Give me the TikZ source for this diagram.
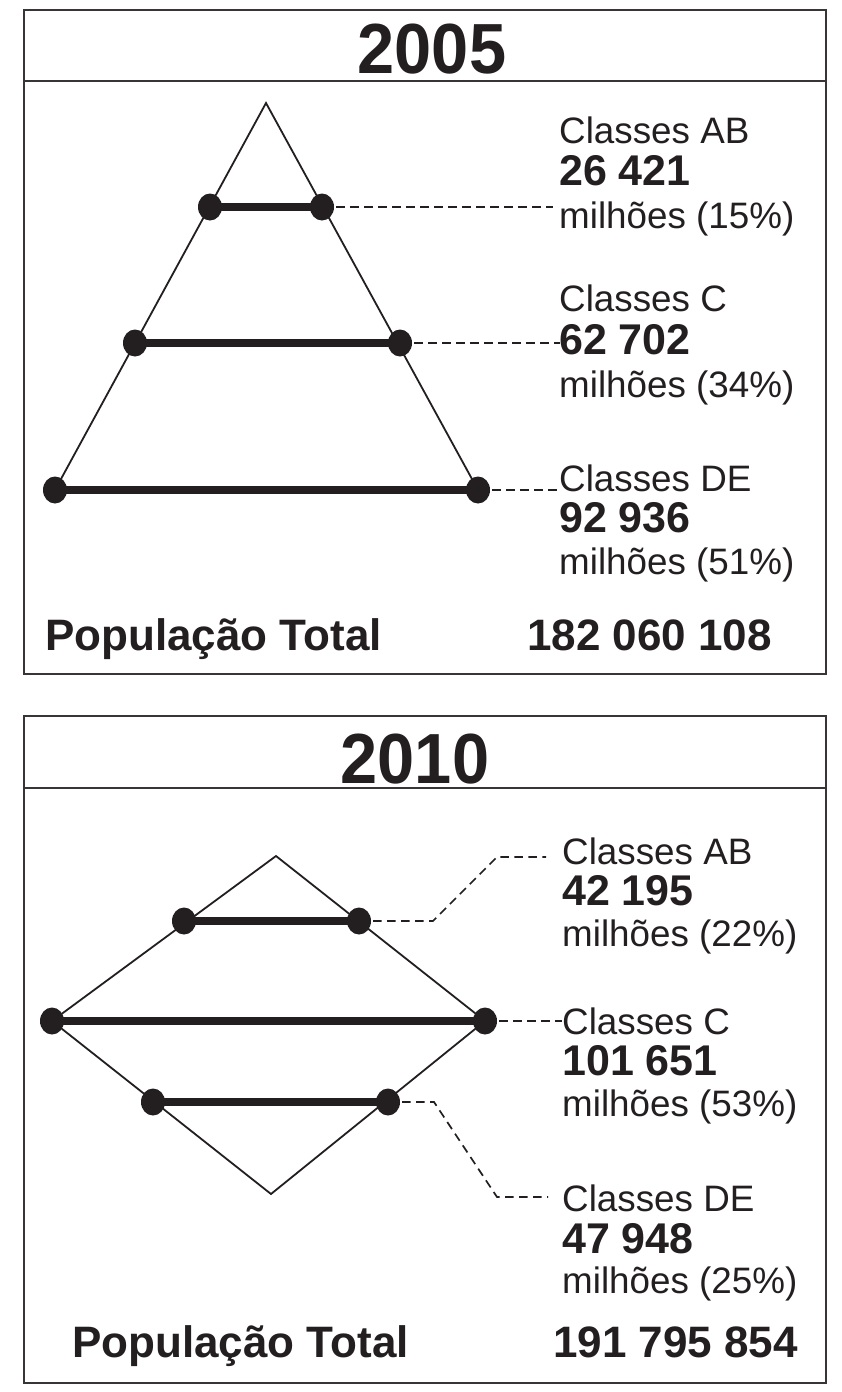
\documentclass[tikz,border=0pt]{standalone}
\usepackage{fontspec}
\setmainfont{Liberation Sans}
\newfontfamily\yearfont[FakeStretch=0.94]{Liberation Sans}
\usetikzlibrary{shapes.geometric}
\definecolor{ink}{HTML}{231F20}
\begin{document}
\begin{tikzpicture}[x=1pt,y=-1pt,
  frame/.style={draw=ink!90, line width=2.4pt},
  edge/.style={draw=ink, line width=1.8pt},
  bar/.style={draw=ink, line width=7.5pt},
  dot/.style={ellipse, fill=ink, minimum width=24pt, minimum height=27pt, inner sep=0pt},
  lead/.style={draw=ink, dash pattern=on 8.5pt off 5.5pt, line width=1.7pt},
  reg/.style={anchor=base west, inner sep=0pt, text=ink, font=\fontsize{36.8}{40}\selectfont},
  num/.style={anchor=base west, inner sep=0pt, text=ink, font=\fontsize{43}{48}\selectfont\bfseries},
  tot/.style={anchor=base west, inner sep=0pt, text=ink, font=\fontsize{44}{48}\selectfont\bfseries},
  year/.style={anchor=base, inner sep=0pt, text=ink, font=\yearfont\fontsize{71}{74}\selectfont\bfseries}]
\useasboundingbox (0,0) rectangle (842,1392);
% ---------- 2005 ----------
\draw[frame] (24,10) rectangle (826,674);
\draw[frame] (24,81) -- (826,81);
\node[year] (y1) at (432,73) {2005};
\coordinate (apex1) at (266,103);
\node[dot] (t1l) at (210,207) {};
\node[dot] (t1r) at (322,207) {};
\node[dot] (t2l) at (135,343) {};
\node[dot] (t2r) at (400,343) {};
\node[dot] (t3l) at (55,490) {};
\node[dot] (t3r) at (478,490) {};
\draw[edge] (t3l.center) -- (apex1) -- (t3r.center);
\draw[bar] (t1l.center) -- (t1r.center);
\draw[bar] (t2l.center) -- (t2r.center);
\draw[bar] (t3l.center) -- (t3r.center);
\coordinate (e11) at (553,207);
\coordinate (e12) at (560,343);
\coordinate (e13) at (558,490);
\draw[lead] (t1r.center) -- (e11);
\draw[lead] (t2r.center) -- (e12);
\draw[lead] (t3r.center) -- (e13);
\node[reg] (a1) at (559,143) {Classes AB};
\node[num] (a2) at (559,185) {26 421};
\node[reg] (a3) at (559,228) {milhões (15\%)};
\node[reg] (b1) at (559,311) {Classes C};
\node[num] (b2) at (559,354) {62 702};
\node[reg] (b3) at (559,397) {milhões (34\%)};
\node[reg] (c1) at (559,491) {Classes DE};
\node[num] (c2) at (559,532) {92 936};
\node[reg] (c3) at (559,574) {milhões (51\%)};
\node[tot] (p1) at (45,650) {População Total};
\node[tot] (q1) at (527,650) {182 060 108};
% ---------- 2010 ----------
\draw[frame] (24,716) rectangle (826,1383);
\draw[frame] (24,788) -- (826,788);
\node[year] (y2) at (415,783) {2010};
\coordinate (top2) at (276,856);
\coordinate (bot2) at (271,1194);
\node[dot] (s1l) at (184,921) {};
\node[dot] (s1r) at (359,921) {};
\node[dot] (s2l) at (52,1021) {};
\node[dot] (s2r) at (485,1021) {};
\node[dot] (s3l) at (153,1102) {};
\node[dot] (s3r) at (388,1102) {};
\draw[edge] (top2) -- (s2l.center) -- (bot2) -- (s2r.center) -- cycle;
\draw[bar] (s1l.center) -- (s1r.center);
\draw[bar] (s2l.center) -- (s2r.center);
\draw[bar] (s3l.center) -- (s3r.center);
\coordinate (k1) at (433,921);
\coordinate (k2) at (497,857);
\coordinate (e21) at (546,857);
\coordinate (e22) at (562,1021);
\coordinate (k3) at (434,1102);
\coordinate (k4) at (497,1197);
\coordinate (e23) at (548,1197);
\draw[lead] (s1r.center) -- (k1) -- (k2) -- (e21);
\draw[lead] (s2r.center) -- (e22);
\draw[lead] (s3r.center) -- (k3) -- (k4) -- (e23);
\node[reg] (f1) at (562,864) {Classes AB};
\node[num] (f2) at (562,905) {42 195};
\node[reg] (f3) at (562,946) {milhões (22\%)};
\node[reg] (g1) at (562,1034) {Classes C};
\node[num] (g2) at (562,1075) {101 651};
\node[reg] (g3) at (562,1116) {milhões (53\%)};
\node[reg] (h1) at (562,1211) {Classes DE};
\node[num] (h2) at (562,1253) {47 948};
\node[reg] (h3) at (562,1293) {milhões (25\%)};
\node[tot] (p2) at (72,1357) {População Total};
\node[tot] (q2) at (553,1357) {191 795 854};
\end{tikzpicture}
\end{document}
